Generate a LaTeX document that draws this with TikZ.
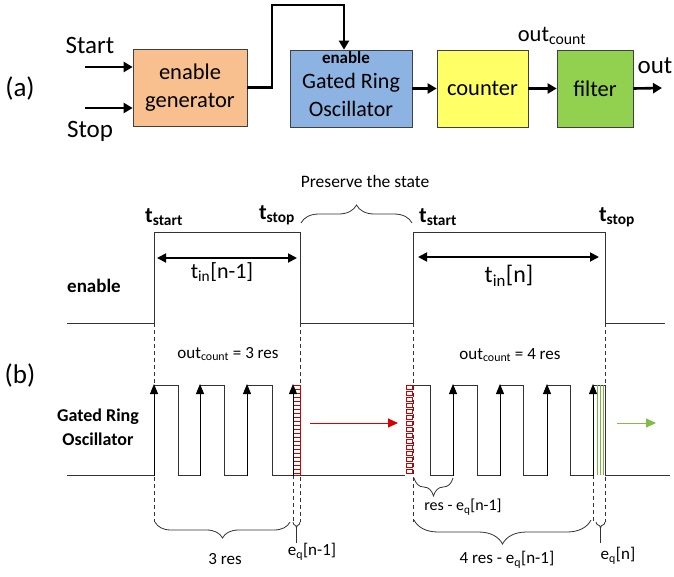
\documentclass[tikz,border=0pt]{standalone}
\usepackage{fontspec}
\setmainfont{Carlito}
\usetikzlibrary{arrows.meta,positioning,decorations.pathreplacing}
\definecolor{genorange}{HTML}{F8BF8F}
\definecolor{groblue}{HTML}{8DB3E2}
\definecolor{cntyellow}{HTML}{FFFF66}
\definecolor{filtgreen}{HTML}{92D050}
\definecolor{wavegray}{HTML}{333333}
\tikzstyle{blk}=[draw=black!75, line width=0.7pt, align=center, minimum height=77pt, inner sep=1pt, font=\fontsize{22.5}{28}\selectfont]
\tikzstyle{sig}=[line width=2.6pt, -{Triangle[length=9pt,width=10pt]}]
\tikzstyle{wave}=[draw=wavegray, line width=0.9pt]
\tikzstyle{guide}=[draw=wavegray, dash pattern=on 4pt off 3pt, line width=0.8pt]
\tikzstyle{edge}=[black, line width=0.9pt, -{Triangle[length=10pt,width=8pt]}]
\tikzstyle{brc}=[draw=wavegray, line width=0.8pt, decorate]
\tikzstyle{lbl}=[inner sep=0pt, font=\fontsize{17}{20}\selectfont]

\begin{document}
\begin{tikzpicture}[x=1pt,y=-1pt]
\useasboundingbox (0,0) rectangle (674,576);

% (a) block chain
\node (pa) [inner sep=0pt, font=\fontsize{27}{30}\selectfont] at (20,88) {(a)};
\node (gen) [blk, fill=genorange, minimum width=114pt] at (190,87.5) {enable\\generator};
\node (gro) [blk, fill=groblue, minimum width=122pt] at (351,88.5) {};
\node (grotxt) [inner sep=0pt, align=center, font=\fontsize{22}{28}\selectfont] at (351,95) {Gated Ring\\Oscillator};
\node (groen) [inner sep=0pt, font=\bfseries\fontsize{17}{19}\selectfont] at (346,58) {enable};
\node (cnt) [blk, fill=cntyellow, minimum width=91pt] at (482.5,88.5) {counter};
\node (filt) [blk, fill=filtgreen, minimum width=76pt] at (595,88.5) {filter};
\node (start) [inner sep=0pt, font=\fontsize{25}{29}\selectfont] at (90,45) {Start};
\node (stop) [inner sep=0pt, font=\fontsize{25}{29}\selectfont] at (90,131) {Stop};
\node (ocnt) [inner sep=0pt, font=\fontsize{22.5}{26}\selectfont] at (552,36) {out\textsubscript{count}};
\node (outl) [inner sep=0pt, font=\fontsize{25}{29}\selectfont] at (655,66) {out};

\coordinate (s0) at (85,67);
\coordinate (p0) at (85,108);
\coordinate (bend) at (272,5);
\coordinate (o1) at (662,88);

\draw[sig] (s0) -- (gen.west |- s0);
\draw[sig] (p0) -- (gen.west |- p0);
\draw[sig] (gen.east) -| (bend) -| ([xshift=-7pt]gro.north);
\draw[sig] (gro.east) -- (cnt.west |- gro.east);
\draw[sig] (cnt.east) -- (filt.west |- cnt.east);
\draw[sig] (filt.east) -- (o1);

% (b) timing
\node (pb) [inner sep=0pt, font=\fontsize{27}{30}\selectfont] at (20,375) {(b)};
\node (keep) [inner sep=0pt, font=\fontsize{17.5}{20}\selectfont] at (365,181) {Preserve the state};
\node (ts1) [inner sep=0pt, font=\bfseries\fontsize{22}{25}\selectfont] at (164,217) {t\textsubscript{start}};
\node (tp1) [inner sep=0pt, font=\bfseries\fontsize{22}{25}\selectfont] at (277,215) {t\textsubscript{stop}};
\node (ts2) [inner sep=0pt, font=\bfseries\fontsize{22}{25}\selectfont] at (438,217) {t\textsubscript{start}};
\node (tp2) [inner sep=0pt, font=\bfseries\fontsize{22}{25}\selectfont] at (617,217) {t\textsubscript{stop}};
\node (enl) [inner sep=0pt, font=\bfseries\fontsize{19}{22}\selectfont] at (94,286) {enable};
\node (grol) [inner sep=0pt, align=center, font=\bfseries\fontsize{18}{24}\selectfont] at (98,427) {Gated Ring\\Oscillator};
\node (tin1) [inner sep=0pt, font=\fontsize{22}{26}\selectfont] at (222,272) {t\textsubscript{in}[n-1]};
\node (tin2) [inner sep=0pt, font=\fontsize{24}{28}\selectfont] at (509,276) {t\textsubscript{in}[n]};
\node (oc3) [lbl] at (228,354) {out\textsubscript{count} = 3 res};
\node (oc4) [lbl] at (510,355) {out\textsubscript{count} = 4 res};
\node (r3) [lbl] at (225,559) {3 res};
\node (eq1) [lbl] at (312,552) {e\textsubscript{q}[n-1]};
\node (rmq) [lbl, font=\fontsize{16}{19}\selectfont] at (463,507) {res - e\textsubscript{q}[n-1]};
\node (r4) [lbl] at (507,560) {4 res - e\textsubscript{q}[n-1]};
\node (eqn) [lbl] at (618,556) {e\textsubscript{q}[n]};

% dashed guides
\draw[guide] (154,323) -- (154,522);
\draw[guide] (300,323) -- (300,522);
\draw[guide] (293,475) -- (293,522);
\draw[guide] (413,323) -- (413,522);
\draw[guide] (593,475) -- (593,522);
\draw[guide] (605,323) -- (605,522);

% enable waveform
\draw[wave] (67,323) -- (154,323) -- (154,232) -- (300,232) -- (300,323) -- (413,323) -- (413,232) -- (605,232) -- (605,323) -- (665,323);

% ring oscillator waveform
\draw[wave] (67,475) -- (154,475) -- (154,385) -- (178,385) -- (178,475) -- (200,475) -- (200,385) -- (224,385) -- (224,475) -- (247,475) -- (247,385) -- (272,385) -- (272,475) -- (293,475) -- (293,385) -- (300,385) -- (300,475) -- (405,475);
\draw[wave] (413,385) -- (430,385) -- (430,475) -- (453,475) -- (453,385) -- (477,385) -- (477,475) -- (500,475) -- (500,385) -- (523,385) -- (523,475) -- (547,475) -- (547,385) -- (570,385) -- (570,475) -- (593,475) -- (593,385) -- (605,385) -- (605,475) -- (670,475);

% preserved state marks
\fill[white] (293.5,385) rectangle (300,475);
\draw[red!80!black, line width=0.6pt] (293.5,385) rectangle (300,475);
\foreach \y in {389,393,...,473} \draw[red!80!black, line width=0.5pt] (293.5,\y) -- (300,\y);
\foreach \y in {385,391,...,470} \draw[red!80!black, line width=0.5pt] (406,\y) rectangle (412,\y+4);
\foreach \x in {597,600,603} \draw[filtgreen!85!black, line width=0.6pt] (\x,385) -- (\x,475);

% rising edges
\foreach \x in {154,200,247,293,453,500,547,593} \draw[edge] (\x,476) -- (\x,384);

% carry over arrows
\coordinate (ra) at (310,423);
\coordinate (rb) at (398,423);
\coordinate (ga) at (617,423);
\coordinate (gb) at (656,423);
\draw[red!85!black, line width=1pt, -{Triangle[length=10pt,width=9pt]}] (ra) -- (rb);
\draw[filtgreen!90!black, line width=1pt, -{Triangle[length=10pt,width=9pt]}] (ga) -- (gb);

% t_in arrows
\coordinate (a1) at (157,258);
\coordinate (a2) at (297,258);
\coordinate (b1) at (418,257);
\coordinate (b2) at (599,257);
\draw[line width=1.8pt, {Triangle[length=9pt,width=9pt]}-{Triangle[length=9pt,width=9pt]}] (a1) -- (a2);
\draw[line width=1.8pt, {Triangle[length=9pt,width=9pt]}-{Triangle[length=9pt,width=9pt]}] (b1) -- (b2);

% braces
\draw[brc, decoration={brace, amplitude=18pt}] (301,223) -- (412,223);
\draw[brc, decoration={brace, amplitude=16pt}] (290,522) -- (155,522);
\draw[brc, decoration={brace, amplitude=6pt}] (300,522) -- (293,522);
\draw[wavegray, line width=0.8pt] (296.5,528) -- (296.5,543);
\draw[brc, decoration={brace, amplitude=18pt}] (453,478) -- (414,478);
\draw[brc, decoration={brace, amplitude=24pt}] (591,520) -- (414,520);
\draw[brc, decoration={brace, amplitude=6pt}] (605,522) -- (596,522);
\draw[wavegray, line width=0.8pt] (600.5,528) -- (600.5,543);

\end{tikzpicture}
\end{document}
